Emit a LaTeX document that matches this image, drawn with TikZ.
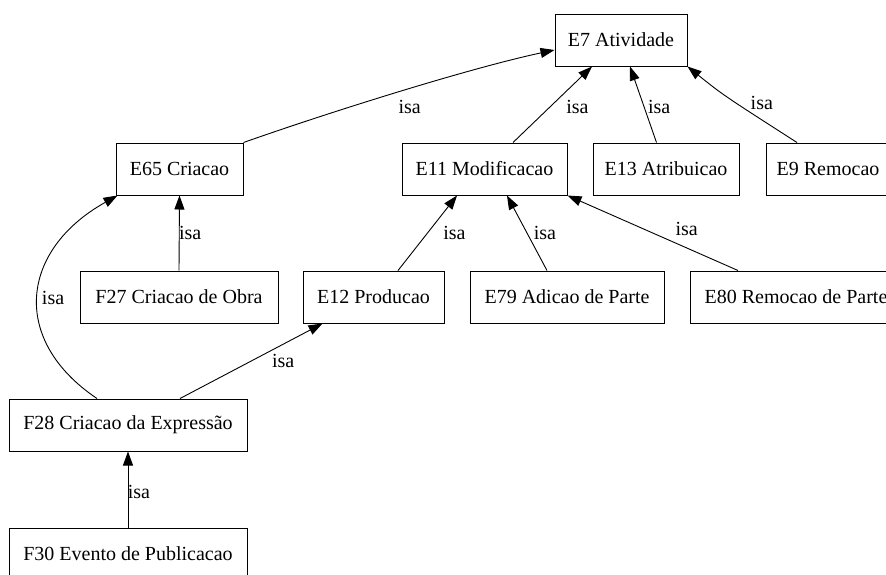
\documentclass[tikz,border=0pt]{standalone}
\usepackage{fontspec}
\setmainfont{Liberation Serif}
\usetikzlibrary{arrows.meta}

\begin{document}
\begin{tikzpicture}[x=1pt, y=-1pt, font=\fontsize{20}{24}\selectfont,
  cls/.style={draw, line width=1pt, minimum width=#1, minimum height=52pt,
              inner sep=0pt},
  arr/.style={line width=0.9pt, -{Triangle[length=14pt, width=10pt]}},
  lbl/.style={inner sep=0pt}
]
  \useasboundingbox (0,0) rectangle (886,574);
  \clip (0,0) rectangle (886,574);

  \node[cls=132pt] (e7)  at (621,40)    {E7 Atividade};

  \node[cls=127pt] (e65) at (179.5,169) {E65 Criacao};
  \node[cls=165pt] (e11) at (484.5,169) {E11 Modificacao};
  \node[cls=146pt] (e13) at (666,169)   {E13 Atribuicao};
  \node[cls=124pt] (e9)  at (828,169)   {E9 Remocao};

  \node[cls=198pt] (f27) at (179,297)   {F27 Criacao de Obra};
  \node[cls=141pt] (e12) at (373.5,297) {E12 Producao};
  \node[cls=194pt] (e79) at (567,297)   {E79 Adicao de Parte};
  \node[cls=212pt] (e80) at (796,297)   {E80 Remocao de Parte};

  \node[cls=238pt] (f28) at (128,425)   {F28 Criacao da Expressão};
  \node[cls=238pt] (f30) at (128,554)   {F30 Evento de Publicacao};

  % isa links up to E7
  \draw[arr] (e65.north east) .. controls (330,112) and (470,68) .. ([yshift=-10pt]e7.west)
    node[lbl, pos=.5, xshift=10pt, yshift=-15pt] {isa};
  \draw[arr] ([xshift=28.5pt]e11.north) -- ([xshift=-29pt]e7.south)
    node[lbl, pos=.5, xshift=25pt, yshift=-2pt] {isa};
  \draw[arr] ([xshift=-9.5pt]e13.north) -- ([xshift=9pt]e7.south)
    node[lbl, pos=.5, xshift=16pt, yshift=-2pt] {isa};
  \draw[arr] ([xshift=-31pt]e9.north) .. controls (723,95) .. (e7.south east)
    node[lbl, pos=.5, xshift=34pt, yshift=-6pt] {isa};

  % isa links up to E65 and E11
  \draw[arr] (f27.north) -- (e65.south)
    node[lbl, pos=.5, xshift=11pt] {isa};
  \draw[arr] ([xshift=-31pt]f28.north) .. controls (10,340) and (20,250) .. ([xshift=2pt]e65.south west)
    node[lbl, pos=.5, xshift=15pt, yshift=-2pt] {isa};
  \draw[arr] ([xshift=24.5pt]e12.north) -- ([xshift=-27.5pt]e11.south)
    node[lbl, pos=.5, xshift=27pt] {isa};
  \draw[arr] ([xshift=-20pt]e79.north) -- ([xshift=22.5pt]e11.south)
    node[lbl, pos=.5, xshift=18pt] {isa};
  \draw[arr] ([xshift=-58pt]e80.north) -- (e11.south east)
    node[lbl, pos=.5, xshift=34pt, yshift=4pt] {isa};

  % isa links at the bottom
  \draw[arr] ([xshift=52pt]f28.north) -- ([xshift=20pt]e12.south west)
    node[lbl, pos=.5, xshift=32pt] {isa};
  \draw[arr] (f30.north) -- (f28.south)
    node[lbl, pos=.5, xshift=11pt, yshift=-2pt] {isa};
\end{tikzpicture}
\end{document}
